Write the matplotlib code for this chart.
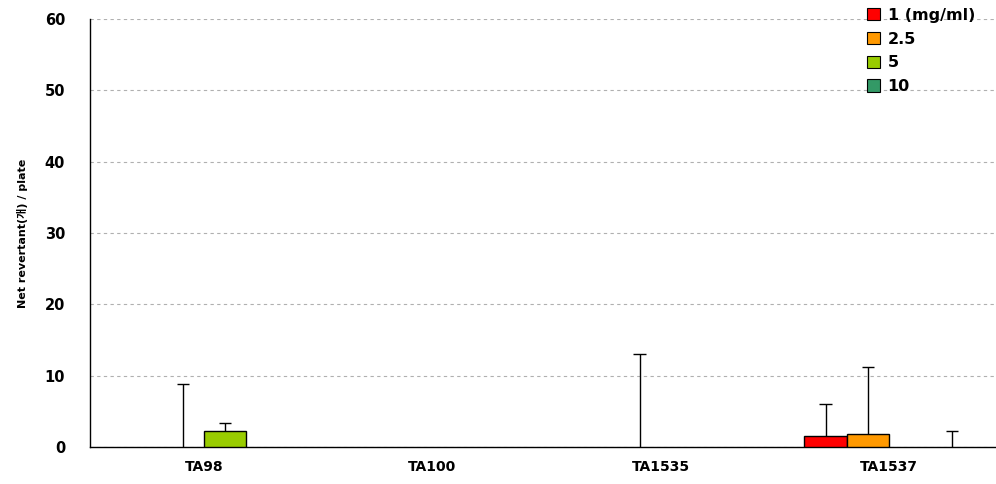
import matplotlib
matplotlib.use("Agg")
import matplotlib.pyplot as plt
import numpy as np
from matplotlib.patches import Patch

strains = ["TA98", "TA100", "TA1535", "TA1537"]
doses = ["1 (mg/ml)", "2.5", "5", "10"]
colors = ["#FF0000", "#FF9900", "#99CC00", "#339966"]

# mean net revertants per dose (rows) x strain (columns)
means = [
    [0.0, 0.0, 0.0, 1.55],
    [0.0, 0.0, 0.0, 1.8],
    [2.25, 0.0, 0.0, 0.0],
    [0.0, 0.0, 0.0, 0.0],
]
# upper error (SD)
errors = [
    [0.0, 0.0, 0.0, 4.5],
    [8.9, 0.0, 13.0, 9.4],
    [1.1, 0.0, 0.0, 0.0],
    [0.0, 0.0, 0.0, 2.2],
]

plt.rcParams["font.family"] = ["DejaVu Sans", "Noto Sans CJK KR"]

fig = plt.figure(figsize=(9.96, 4.84), dpi=100)
ax = fig.add_axes([0.0904, 0.0764, 0.9167, 0.8843])

x = np.arange(len(strains))
width = 0.185
for i, (dose, color) in enumerate(zip(doses, colors)):
    pos = x + (i - 1.5) * width
    m = np.array(means[i])
    e = np.array(errors[i])
    nz = m > 0
    ax.bar(pos[nz], m[nz], width, color=color, edgecolor="black", linewidth=1.0, zorder=3)
    has_err = e > 0
    # upper-only error bars: stem plus a single top cap
    ax.vlines(pos[has_err], m[has_err], m[has_err] + e[has_err],
              color="black", linewidth=1.0, zorder=4)
    ax.errorbar(pos[has_err], m[has_err] + e[has_err], xerr=0.027,
                fmt="none", ecolor="black", elinewidth=1.0, capsize=0, zorder=4)

ax.set_xlim(-0.5, 3.5)
ax.set_ylim(0, 60)
ax.set_yticks(range(0, 61, 10))
ax.set_xticks(x)
ax.set_xticklabels(strains, fontweight="bold", fontsize=10)
for lbl in ax.get_yticklabels():
    lbl.set_fontweight("bold")
    lbl.set_fontsize(10.5)
ax.tick_params(axis="y", length=0, pad=18)
ax.tick_params(axis="x", length=0, pad=9)
ax.yaxis.grid(True, linestyle=(0, (3, 3)), color="#b0b0b0", linewidth=0.8)
ax.set_axisbelow(True)
for side in ["top", "right"]:
    ax.spines[side].set_visible(False)
ax.spines["left"].set_linewidth(1.0)
ax.spines["bottom"].set_linewidth(1.0)

ax.set_ylabel("Net revertant(개) / plate", fontsize=8, fontweight="bold", labelpad=12)

handles = [Patch(facecolor=c, edgecolor="black", linewidth=0.8) for c in colors]
leg = ax.legend(handles, doses, loc="upper right", bbox_to_anchor=(0.985, 1.06),
                frameon=False, handlelength=0.8, handleheight=0.8,
                handletextpad=0.5, labelspacing=0.55,
                prop={"weight": "bold", "size": 11.5})

fig.savefig("out.png", dpi=100)
